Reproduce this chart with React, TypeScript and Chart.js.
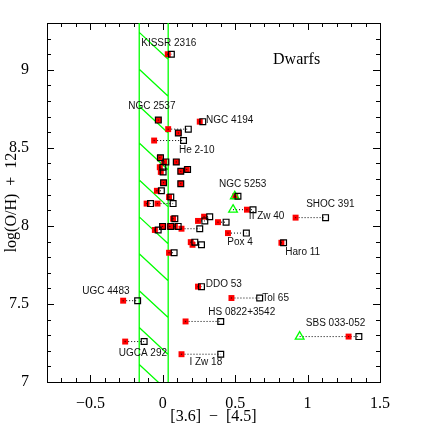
import React, { useEffect, useRef } from 'react';
import { Chart, registerables } from 'chart.js';

Chart.register(...registerables);

// ---- data ----
const GALAXY = [
  'KISSR 2316', 'NGC 2537', 'g3', 'g4', 'NGC 4194', 'He 2-10', 'g7', 'g8', 'g9', 'g10',
  'g11', 'g12a', 'g12b', 'g13', 'g14', 'g15', 'g16', 'NGC 5253', 'g18', 'g19',
  'II Zw 40', 'SHOC 391', 'g22', 'g23', 'g24', 'g25', 'g26', 'g27', 'g28', 'g29',
  'g30', 'Pox 4', 'g32', 'g33', 'Haro 11', 'g35', 'DDO 53', 'Tol 65', 'UGC 4483', 'HS 0822+3542',
  'SBS 033-052', 'UGCA 292', 'I Zw 18',
];
const RED_X = [
  0.034, -0.031, 0.037, 0.107, 0.255, -0.060, -0.021, 0.009, 0.093, -0.021,
  -0.014, 0.124, 0.165, 0.005, 0.124, -0.041, 0.043, 0.500, -0.112, -0.037,
  0.581, 0.917, 0.071, 0.243, 0.285, 0.381, -0.002, 0.048, 0.083, 0.129,
  -0.055, 0.450, 0.193, 0.205, 0.819, 0.043, 0.243, 0.474, -0.274, 0.157,
  1.283, -0.260, 0.129,
];
const BLACK_X = [
  0.059, -0.031, 0.176, 0.107, 0.276, 0.143, -0.016, 0.021, 0.093, 0.000,
  0.002, 0.124, 0.171, 0.005, 0.124, -0.010, 0.055, 0.519, -0.085, 0.071,
  0.623, 1.124, 0.083, 0.290, 0.324, 0.437, -0.002, 0.055, 0.106, 0.255,
  -0.032, 0.577, 0.221, 0.267, 0.834, 0.078, 0.267, 0.669, -0.174, 0.400,
  1.354, -0.129, 0.400,
];
const GREEN_X: (number | null)[] = [
  null, null, null, null, null, null, null, null, null, null,
  null, null, null, null, null, null, null, 0.497, null, null,
  0.485, null, null, null, null, null, null, null, null, null,
  null, null, null, null, null, null, null, null, null, null,
  0.945, null, null,
];
const OH = [
  9.100, 8.678, 8.620, 8.595, 8.668, 8.547, 8.437, 8.410, 8.410, 8.376,
  8.346, 8.350, 8.362, 8.277, 8.270, 8.225, 8.185, 8.190, 8.143, 8.143,
  8.104, 8.053, 8.046, 8.032, 8.059, 8.024, 7.997, 7.997, 7.997, 7.982,
  7.974, 7.954, 7.896, 7.879, 7.892, 7.828, 7.611, 7.538, 7.521, 7.388,
  7.291, 7.259, 7.178,
];

const X_TICKS = [-0.5, 0, 0.5, 1, 1.5];
const Y_TICKS = [7, 7.5, 8, 8.5, 9];
const X_RANGE = [-0.8, 1.5];
const Y_RANGE = [7, 9.3];
const BAND = [-0.163, 0.037];

// annotation text and anchor (data coordinates)
const LABEL_TEXT = [
  'KISSR 2316', 'NGC 2537', 'NGC 4194', 'He 2-10', 'NGC 5253', 'II Zw 40', 'SHOC 391', 'Pox 4',
  'Haro 11', 'DDO 53', 'Tol 65', 'HS 0822+3542', 'SBS 033-052', 'UGC 4483', 'UGCA 292', 'I Zw 18',
];
const LABEL_X = [0.041, -0.076, 0.462, 0.234, 0.552, 0.717, 1.157, 0.534, 0.966, 0.421, 0.779, 0.545, 1.193, -0.393, -0.138, 0.297];
const LABEL_Y = [9.170, 8.764, 8.678, 8.486, 8.267, 8.064, 8.136, 7.897, 7.833, 7.628, 7.534, 7.450, 7.377, 7.579, 7.182, 7.129];
const PANEL_TITLE = 'Dwarfs';

const SERIF = '"Liberation Serif", "Times New Roman", serif';
const SANS = '"Liberation Sans", Arial, sans-serif';

const decorPlugin = {
  id: 'decor',
  beforeDatasetsDraw(chart: any) {
    const { ctx, chartArea: ca } = chart;
    const xs = chart.scales.x;
    const ys = chart.scales.y;
    const xl = xs.getPixelForValue(BAND[0]);
    const xr = xs.getPixelForValue(BAND[1]);
    ctx.save();
    ctx.beginPath();
    ctx.rect(ca.left, ca.top, ca.right - ca.left, ca.bottom - ca.top);
    ctx.clip();
    ctx.strokeStyle = '#00ff00';
    ctx.lineWidth = 1.3;
    ctx.beginPath();
    ctx.moveTo(xl, ca.top);
    ctx.lineTo(xl, ca.bottom);
    ctx.moveTo(xr, ca.top);
    ctx.lineTo(xr, ca.bottom);
    const spacing = 36.9;
    const slope = 0.93;
    let y0 = ys.getPixelForValue(9.24);
    while (y0 > ca.top - 60) y0 -= spacing;
    for (let y = y0; y < ca.bottom + 5; y += spacing) {
      ctx.moveTo(xl, y);
      ctx.lineTo(xr, y + (xr - xl) * slope);
    }
    ctx.stroke();
    ctx.restore();
  },
  afterDatasetsDraw(chart: any) {
    const { ctx, chartArea: ca } = chart;
    const xs = chart.scales.x;
    const ys = chart.scales.y;
    ctx.save();
    ctx.fillStyle = '#111';
    ctx.font = `10px ${SANS}`;
    ctx.textAlign = 'center';
    ctx.textBaseline = 'middle';
    LABEL_TEXT.forEach((t, i) => {
      ctx.fillText(t, xs.getPixelForValue(LABEL_X[i]), ys.getPixelForValue(LABEL_Y[i]));
    });
    ctx.font = `16px ${SERIF}`;
    ctx.fillStyle = '#000';
    ctx.fillText(PANEL_TITLE, xs.getPixelForValue(0.924), ys.getPixelForValue(9.064));

    // inward major / minor ticks on all four sides
    ctx.strokeStyle = '#000';
    ctx.lineWidth = 1;
    ctx.beginPath();
    const isMajor = (v: number) => Math.abs(v * 2 - Math.round(v * 2)) < 1e-6;
    for (let i = Math.round(X_RANGE[0] * 10); i <= Math.round(X_RANGE[1] * 10); i++) {
      const v = i / 10;
      const px = Math.round(xs.getPixelForValue(v)) + 0.5;
      const L = isMajor(v) ? 7 : 4;
      ctx.moveTo(px, ca.bottom);
      ctx.lineTo(px, ca.bottom - L);
      ctx.moveTo(px, ca.top);
      ctx.lineTo(px, ca.top + L);
    }
    for (let i = Math.round(Y_RANGE[0] * 10); i <= Math.round(Y_RANGE[1] * 10); i++) {
      const v = i / 10;
      const py = Math.round(ys.getPixelForValue(v)) + 0.5;
      const L = isMajor(v) ? 7 : 4;
      ctx.moveTo(ca.left, py);
      ctx.lineTo(ca.left + L, py);
      ctx.moveTo(ca.right, py);
      ctx.lineTo(ca.right - L, py);
    }
    ctx.stroke();
    ctx.restore();
  },
};

export default function App() {
  const ref = useRef<HTMLCanvasElement | null>(null);

  useEffect(() => {
    document.body.style.margin = '0';
    const canvas = ref.current;
    if (!canvas) return;

    const connectors = GALAXY.map((_, i) => {
      const xs = [RED_X[i], BLACK_X[i]];
      if (GREEN_X[i] !== null) xs.push(GREEN_X[i] as number);
      const lo = Math.min(...xs);
      const hi = Math.max(...xs);
      return {
        type: 'scatter' as const,
        data: [{ x: lo, y: OH[i] }, { x: hi, y: OH[i] }],
        showLine: true,
        borderColor: '#000',
        borderWidth: 1,
        borderDash: [1, 2],
        pointRadius: 0,
        order: 5,
      };
    });

    const greenPts = GREEN_X.map((g, i) => (g === null ? null : { x: g, y: OH[i] })).filter(Boolean) as any[];

    const chart = new Chart(canvas, {
      type: 'scatter',
      data: {
        datasets: [
          {
            label: 'open',
            data: BLACK_X.map((x, i) => ({ x, y: OH[i] })),
            pointStyle: 'rect',
            pointRadius: 4.1,
            backgroundColor: 'rgba(0,0,0,0)',
            borderColor: '#000',
            borderWidth: 1.2,
            order: 0,
          },
          {
            label: 'centre',
            data: RED_X.map((x, i) => ({ x, y: OH[i] })),
            pointStyle: 'circle',
            pointRadius: 0.7,
            backgroundColor: '#500',
            borderWidth: 0,
            order: 1,
          },
          {
            label: 'triangle',
            data: greenPts,
            pointStyle: 'triangle',
            pointRadius: 5,
            backgroundColor: 'rgba(0,0,0,0)',
            borderColor: '#00ff00',
            borderWidth: 1.3,
            order: 2,
          },
          {
            label: 'filled',
            data: RED_X.map((x, i) => ({ x, y: OH[i] })),
            pointStyle: 'rect',
            pointRadius: 4.2,
            backgroundColor: '#ff0000',
            borderWidth: 0,
            order: 3,
          },
          ...connectors,
        ] as any,
      },
      options: {
        responsive: false,
        animation: false,
        events: [],
        layout: { padding: { top: 23, left: 0, right: 0, bottom: 0 } },
        plugins: { legend: { display: false }, tooltip: { enabled: false }, title: { display: false } },
        scales: {
          x: {
            type: 'linear',
            position: 'bottom',
            min: X_RANGE[0],
            max: X_RANGE[1],
            afterBuildTicks: (s: any) => { s.ticks = X_TICKS.map((v) => ({ value: v })); },
            afterFit: (s: any) => { s.height = 47; },
            grid: { display: false },
            border: { display: true, color: '#000', width: 1 },
            ticks: {
              color: '#000',
              font: { family: SERIF, size: 16 },
              padding: 4,
              maxRotation: 0,
              callback: (v: any) => (Number(v) < 0 ? '\u2212' + Math.abs(Number(v)) : String(v)),
            },
            title: {
              display: true,
              text: '[3.6]  \u2212  [4.5]',
              color: '#000',
              font: { family: SERIF, size: 16 },
              padding: { top: 0, bottom: 3 },
            },
          },
          x2: {
            type: 'linear',
            position: 'top',
            min: X_RANGE[0],
            max: X_RANGE[1],
            afterFit: (s: any) => { s.height = 0; },
            grid: { display: false },
            border: { display: true, color: '#000', width: 1 },
            ticks: { display: false },
          },
          y: {
            type: 'linear',
            position: 'left',
            min: Y_RANGE[0],
            max: Y_RANGE[1],
            afterBuildTicks: (s: any) => { s.ticks = Y_TICKS.map((v) => ({ value: v })); },
            afterFit: (s: any) => { s.width = 47; },
            grid: { display: false },
            border: { display: true, color: '#000', width: 1 },
            ticks: {
              color: '#000',
              font: { family: SERIF, size: 16 },
              padding: 10,
              callback: (v: any) => String(v),
            },
            title: {
              display: true,
              text: 'log(O/H)  +  12',
              color: '#000',
              font: { family: SERIF, size: 16 },
              padding: { top: 2, bottom: 0 },
            },
          },
          y2: {
            type: 'linear',
            position: 'right',
            min: Y_RANGE[0],
            max: Y_RANGE[1],
            afterFit: (s: any) => { s.width = 49; },
            grid: { display: false },
            border: { display: true, color: '#000', width: 1 },
            ticks: { display: false },
          },
        },
      } as any,
      plugins: [decorPlugin],
    });

    return () => chart.destroy();
  }, []);

  return (
    <div style={{ width: 429, height: 429, background: '#fff' }}>
      <canvas ref={ref} width={429} height={429} style={{ display: 'block' }} />
    </div>
  );
}
